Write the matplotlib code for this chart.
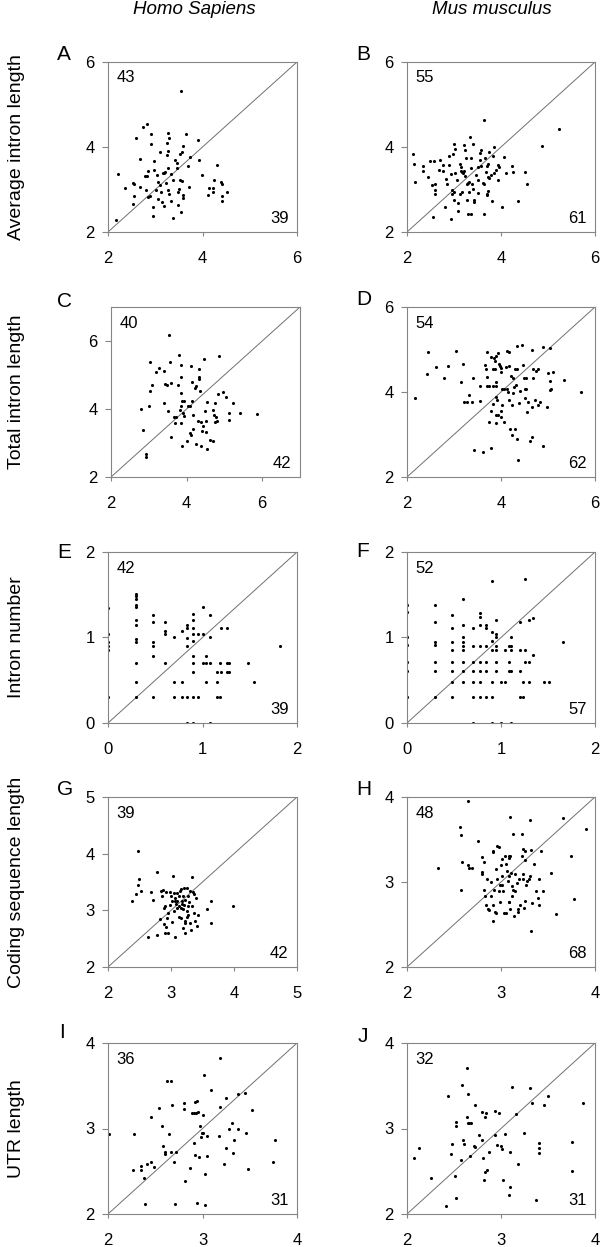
import numpy as np
import matplotlib.pyplot as plt

plt.rcParams['font.family'] = ['Liberation Sans', 'DejaVu Sans']

# ---- data (log10 values) ----
# A: Homo sapiens, average intron length
a_x = [2.17, 2.21, 2.36, 2.53, 2.54, 2.54, 2.52, 2.59, 2.68, 2.75, 2.83, 2.79, 2.83, 2.84,
       2.81, 2.85, 2.88, 2.91, 2.92, 2.97, 2.97, 2.95, 2.95, 3.02, 3.03, 3.11, 3.11, 3.13,
       3.15, 3.19, 3.17, 3.19, 3.21, 3.22, 3.25, 3.25, 3.28, 3.30, 3.28, 3.28, 3.27, 3.30,
       3.34, 3.34, 3.37, 3.42, 3.46, 3.45, 3.49, 3.51, 3.55, 3.53, 3.56, 3.58, 3.53, 3.56,
       3.55, 3.58, 3.58, 3.66, 3.70, 3.71, 3.90, 3.92, 3.98, 4.11, 4.14, 4.23, 4.22, 4.24,
       4.30, 4.40, 4.41, 4.42, 4.42, 4.51, 3.06, 3.74, 2.68, 3.49, 3.37, 3.06]
a_y = [2.29, 3.37, 3.04, 3.15, 3.12, 2.85, 2.65, 4.21, 3.72, 4.46, 4.53, 3.32, 3.32, 3.44,
       3.00, 2.82, 2.85, 4.08, 4.31, 3.66, 3.47, 2.60, 2.38, 2.99, 3.34, 3.88, 3.11, 2.93,
       2.71, 2.61, 3.40, 3.39, 3.42, 3.15, 4.09, 3.82, 4.34, 4.22, 3.91, 3.50, 2.98, 2.89,
       3.36, 2.73, 2.34, 3.70, 3.63, 3.51, 2.64, 3.02, 5.32, 3.84, 3.88, 4.02, 3.22, 3.20,
       2.48, 2.86, 2.81, 4.31, 3.55, 3.07, 4.16, 3.69, 3.33, 2.88, 3.04, 3.04, 2.95, 3.23,
       3.57, 3.18, 3.13, 2.84, 2.73, 2.93, 2.78, 3.76, 3.06, 2.94, 3.22, 3.18]

# B: Mus musculus, average intron length
b_x = [2.13, 2.15, 2.18, 2.34, 2.35, 2.45, 2.49, 2.58, 2.53, 2.59, 2.60, 2.60, 2.55, 2.71,
       2.77, 2.77, 2.81, 2.83, 2.89, 2.90, 2.93, 2.96, 2.99, 2.96, 2.98, 3.00, 3.02, 3.02,
       3.00, 3.06, 3.09, 3.12, 3.12, 3.09, 3.15, 3.18, 3.20, 3.21, 3.14, 3.21, 3.23, 3.25,
       3.24, 3.27, 3.29, 3.32, 3.29, 3.37, 3.27, 3.34, 3.37, 3.37, 3.38, 3.40, 3.42, 3.42,
       3.46, 3.50, 3.52, 3.55, 3.57, 3.55, 3.57, 3.61, 3.63, 3.63, 3.63, 3.67, 3.68, 3.70,
       3.71, 3.71, 3.72, 3.72, 3.75, 3.75, 3.72, 3.78, 3.80, 3.82, 3.85, 3.86, 3.90, 3.94,
       3.95, 4.03, 4.06, 4.10, 4.23, 4.25, 4.37, 4.50, 4.56, 4.88, 5.24, 2.68, 2.85, 2.93,
       3.50, 3.40, 3.93, 3.31, 3.18]
b_y = [3.84, 3.59, 3.18, 3.55, 3.44, 3.29, 3.67, 3.67, 3.10, 3.14, 2.98, 2.90, 2.35, 3.70,
       3.57, 3.44, 2.59, 3.25, 3.57, 3.78, 2.31, 2.98, 2.94, 2.90, 3.83, 4.08, 3.96, 3.39,
       2.76, 3.22, 2.68, 2.90, 3.61, 2.49, 3.44, 3.41, 3.39, 3.44, 3.53, 4.04, 3.92, 3.73,
       3.31, 3.12, 3.15, 3.18, 2.43, 2.43, 2.76, 4.24, 3.73, 3.51, 3.14, 4.08, 2.75, 2.71,
       3.35, 2.92, 3.53, 3.86, 3.92, 3.69, 3.55, 3.15, 3.12, 4.63, 2.43, 3.73, 3.41, 3.55,
       2.86, 2.90, 3.61, 3.29, 3.28, 3.88, 2.96, 3.33, 2.73, 3.80, 4.00, 3.39, 3.47, 3.57,
       3.53, 2.60, 3.76, 3.40, 3.55, 3.41, 2.73, 3.41, 3.12, 4.02, 4.43, 3.45, 3.14, 3.37,
       3.22, 3.02, 3.22, 2.94, 2.94]

# C: Homo sapiens, total intron length
c_x = [2.80, 2.84, 2.92, 2.92, 3.00, 3.02, 3.03, 3.09, 3.18, 3.28, 3.39, 3.40, 3.44, 3.48,
       3.50, 3.53, 3.55, 3.58, 3.60, 3.67, 3.72, 3.70, 3.76, 3.79, 3.82, 3.84, 3.84, 3.84,
       3.85, 3.86, 3.88, 3.94, 3.89, 3.91, 3.94, 4.00, 4.04, 4.08, 4.10, 4.12, 4.12, 4.13,
       4.15, 4.17, 4.17, 4.21, 4.24, 4.26, 4.29, 4.32, 4.32, 4.34, 4.35, 4.38, 4.38, 4.40,
       4.43, 4.46, 4.48, 4.50, 4.51, 4.54, 4.54, 4.62, 4.70, 4.71, 4.73, 4.76, 4.76, 4.79,
       4.80, 4.83, 4.87, 4.95, 5.03, 5.12, 5.13, 5.23, 5.40, 5.85]
c_y = [4.00, 3.37, 2.67, 2.59, 4.09, 4.53, 5.39, 4.70, 5.08, 5.21, 5.11, 4.17, 4.75, 4.72,
       3.93, 6.18, 5.38, 3.19, 4.77, 3.76, 3.76, 3.60, 4.70, 5.58, 3.96, 3.60, 4.93, 4.47,
       4.09, 5.28, 4.24, 4.24, 2.92, 3.88, 3.80, 3.07, 4.10, 4.10, 3.30, 3.23, 5.26, 4.24,
       4.80, 3.41, 3.81, 4.62, 2.97, 4.67, 3.66, 5.18, 4.93, 4.88, 4.52, 2.92, 3.63, 3.36,
       3.50, 5.46, 3.93, 3.66, 3.33, 4.20, 2.82, 3.10, 3.06, 3.98, 3.83, 4.19, 3.63, 3.76,
       3.65, 4.45, 5.56, 4.49, 4.35, 3.88, 3.68, 4.17, 3.87, 3.84]

# D: Mus musculus, total intron length
d_x = [2.17, 2.42, 2.45, 2.62, 2.78, 2.87, 3.04, 3.14, 3.19, 3.21, 3.27, 3.32, 3.38, 3.40,
       3.43, 3.55, 3.55, 3.61, 3.66, 3.68, 3.70, 3.70, 3.71, 3.74, 3.75, 3.78, 3.78, 3.78,
       3.82, 3.82, 3.84, 3.87, 3.85, 3.89, 3.87, 3.89, 3.89, 3.90, 3.91, 3.90, 3.93, 3.90,
       3.94, 3.95, 3.97, 4.00, 3.99, 3.99, 4.01, 4.03, 4.06, 4.03, 4.06, 4.10, 4.12, 4.16,
       4.13, 4.14, 4.16, 4.18, 4.20, 4.29, 4.22, 4.25, 4.23, 4.23, 4.25, 4.28, 4.29, 4.35,
       4.31, 4.33, 4.35, 4.37, 4.38, 4.41, 4.44, 4.46, 4.48, 4.54, 4.50, 4.54, 4.52, 4.56,
       4.58, 4.61, 4.65, 4.67, 4.67, 4.69, 4.69, 4.75, 4.73, 4.79, 4.79, 4.82, 4.90, 4.90,
       4.98, 5.01, 5.04, 5.05, 5.10, 5.04, 5.07, 5.35, 5.70]
d_y = [3.85, 4.42, 4.93, 4.58, 4.34, 4.62, 4.97, 4.24, 4.66, 3.77, 3.76, 3.94, 3.77, 4.34,
       2.64, 3.80, 4.13, 2.60, 4.64, 4.54, 4.93, 4.36, 4.13, 4.13, 3.29, 3.56, 2.69, 4.83,
       4.13, 3.72, 4.55, 4.55, 4.81, 4.85, 4.72, 4.23, 4.13, 3.88, 3.81, 3.47, 3.45, 3.27,
       4.91, 4.67, 4.62, 4.56, 4.46, 3.42, 3.56, 4.07, 4.07, 3.70, 3.29, 4.58, 4.97, 4.95,
       4.07, 4.01, 4.62, 3.81, 3.13, 3.13, 4.38, 4.34, 2.99, 3.70, 3.97, 4.11, 4.54, 4.55,
       4.16, 2.90, 5.09, 2.41, 3.73, 4.03, 5.11, 4.63, 4.34, 4.34, 4.07, 4.07, 3.85, 3.54,
       3.77, 2.84, 2.95, 3.64, 4.98, 4.34, 4.54, 4.50, 3.81, 4.54, 3.70, 3.76, 5.06, 2.72,
       3.64, 4.44, 4.25, 4.05, 4.46, 5.03, 4.07, 4.29, 3.99]

# E: Homo sapiens, intron number
e_x = [0.00] * 6 + [0.30] * 12 + [0.48] * 6 + [0.60] * 4 + [0.70] * 3 + [0.78] * 3 + \
      [0.84] * 6 + [0.90] * 10 + [0.95] * 2 + [1.00] * 3 + [1.04] * 3 + [1.08] * 4 + \
      [1.15] * 3 + [1.18] * 2 + [1.20] * 2 + [1.26] * 3 + [1.28] * 2 + [1.48, 1.54, 1.82]
e_y = [1.34, 1.04, 0.95, 0.90, 0.85, 0.30,
       1.51, 1.48, 1.45, 1.38, 1.36, 1.20, 1.15, 0.98, 0.95, 0.70, 0.48, 0.30,
       1.26, 1.18, 0.95, 0.90, 0.78, 0.30,
       1.18, 1.08, 1.04, 0.70,
       1.00, 0.48, 0.30,
       1.08, 0.48, 0.30,
       1.15, 1.11, 0.99, 0.90, 0.30, 0.00,
       1.28, 1.20, 1.11, 1.04, 0.96, 0.78, 0.70, 0.60, 0.30, 0.00,
       1.04, 0.30,
       1.36, 1.04, 0.70,
       0.78, 0.70, 0.48,
       1.26, 1.00, 0.70, 0.00,
       0.60, 0.48, 0.30,
       0.70, 0.30,
       1.11, 0.60,
       1.11, 0.70, 0.60,
       0.70, 0.60,
       0.70, 0.48, 0.90]

# F: Mus musculus, intron number
f_x = [0.00] * 7 + [0.30] * 7 + [0.48] * 8 + [0.60] * 9 + [0.70] * 7 + [0.78] * 8 + \
      [0.84] * 6 + [0.90] * 7 + [0.95] * 7 + [1.00] * 2 + [1.04] * 2 + [1.08] * 3 + \
      [1.11] * 5 + [1.20] * 4 + [1.23] * 2 + [1.26] * 3 + [1.30] * 3 + [1.34] * 2 + \
      [1.46, 1.51, 1.66]
f_y = [1.38, 1.30, 1.00, 0.91, 0.71, 0.61, 0.30,
       1.38, 1.18, 0.95, 0.91, 0.71, 0.61, 0.30,
       1.26, 1.11, 0.95, 0.85, 0.71, 0.61, 0.48, 0.30,
       1.45, 1.15, 1.01, 0.95, 0.90, 0.85, 0.71, 0.61, 0.48,
       1.11, 0.90, 0.71, 0.61, 0.48, 0.30, 0.00,
       1.29, 1.24, 1.15, 0.90, 0.71, 0.61, 0.48, 0.30,
       1.15, 1.11, 0.90, 0.71, 0.61, 0.30,
       1.66, 1.07, 0.96, 0.85, 0.48, 0.30, 0.00,
       1.21, 1.04, 1.00, 0.90, 0.85, 0.71, 0.61,
       0.48, 0.00,
       0.85, 0.48,
       0.90, 0.71, 0.61,
       1.00, 0.90, 0.85, 0.61, 0.00,
       1.18, 0.85, 0.61, 0.30,
       0.48, 0.30,
       1.69, 0.85, 0.71,
       1.21, 0.71, 0.48,
       1.23, 0.79,
       0.48, 0.48, 0.95]

# G: Homo sapiens, coding sequence length
g_x = [2.38, 2.45, 2.48, 2.47, 2.49, 2.52, 2.64, 2.69, 2.71, 2.78, 2.78, 2.83, 2.84, 2.87,
       2.89, 2.89, 2.91, 2.92, 2.92, 2.93, 2.95, 2.96, 2.99, 3.00, 3.02, 3.02, 3.03, 3.04,
       3.05, 3.06, 3.06, 3.08, 3.09, 3.12, 3.10, 3.12, 3.13, 3.15, 3.16, 3.17, 3.18, 3.19,
       3.19, 3.19, 3.20, 3.22, 3.22, 3.23, 3.23, 3.25, 3.25, 3.26, 3.27, 3.27, 3.29, 3.30,
       3.30, 3.32, 3.33, 3.35, 3.37, 3.36, 3.39, 3.41, 3.43, 3.57, 3.64, 3.64, 3.98, 3.10,
       3.16, 3.21, 3.06, 2.99, 3.27, 3.33, 2.91, 3.38, 3.16, 2.85]
g_y = [3.16, 3.29, 4.04, 3.44, 3.55, 3.35, 2.53, 3.32, 3.18, 2.57, 3.67, 2.84, 3.34, 3.36,
       3.05, 2.76, 2.60, 2.71, 3.32, 2.86, 2.95, 2.60, 3.32, 3.26, 3.16, 2.79, 3.61, 2.98,
       3.31, 3.22, 2.53, 3.12, 3.04, 3.07, 3.17, 2.89, 3.25, 3.35, 3.38, 3.12, 3.16, 3.02,
       2.69, 3.25, 3.39, 3.18, 2.78, 2.81, 2.60, 3.39, 2.98, 2.89, 2.91, 3.07, 3.14, 3.34,
       2.78, 2.65, 3.59, 3.32, 3.28, 2.95, 3.21, 2.72, 2.91, 3.02, 3.17, 2.78, 3.07, 3.31,
       3.04, 3.10, 3.16, 3.10, 3.25, 3.07, 3.07, 2.81, 2.86, 3.25]

# H: Mus musculus, coding sequence length
h_x = [2.33, 2.56, 2.57, 2.57, 2.59, 2.65, 2.66, 2.65, 2.69, 2.76, 2.80, 2.82, 2.80, 2.80,
       2.82, 2.83, 2.84, 2.85, 2.86, 2.87, 2.89, 2.89, 2.91, 2.92, 2.92, 2.91, 2.93, 2.94,
       2.95, 2.95, 2.96, 2.96, 2.98, 2.98, 2.99, 2.99, 3.01, 3.00, 3.01, 3.01, 3.02, 3.03,
       3.05, 3.04, 3.05, 3.06, 3.07, 3.08, 3.10, 3.08, 3.09, 3.09, 3.09, 3.10, 3.10, 3.11,
       3.12, 3.12, 3.13, 3.13, 3.15, 3.14, 3.15, 3.17, 3.18, 3.18, 3.19, 3.20, 3.22, 3.23,
       3.25, 3.22, 3.23, 3.23, 3.24, 3.25, 3.26, 3.27, 3.28, 3.30, 3.31, 3.31, 3.32, 3.32,
       3.33, 3.35, 3.37, 3.39, 3.40, 3.40, 3.43, 3.45, 3.53, 3.59, 3.66, 3.74, 3.78, 3.90]
h_y = [3.17, 3.65, 3.55, 2.91, 3.23, 3.20, 3.17, 3.95, 3.16, 3.48, 3.30, 3.24, 3.12, 3.10,
       2.91, 2.83, 2.73, 3.04, 2.68, 2.67, 3.00, 2.83, 3.35, 3.37, 2.73, 2.54, 2.91, 2.65,
       2.64, 3.15, 3.03, 3.42, 3.41, 2.90, 2.77, 2.97, 2.96, 3.20, 3.27, 3.07, 2.90, 2.63,
       2.64, 3.31, 3.21, 3.13, 3.01, 3.31, 3.31, 2.77, 2.77, 3.28, 3.07, 2.68, 3.77, 3.11,
       2.95, 2.84, 3.56, 2.91, 2.89, 2.60, 3.10, 2.99, 2.65, 2.68, 3.03, 2.73, 3.56, 3.39,
       3.37, 3.31, 3.09, 3.03, 2.69, 2.78, 3.26, 2.96, 3.01, 3.03, 3.73, 3.07, 3.38, 2.42,
       2.75, 3.21, 2.89, 2.81, 3.03, 2.73, 3.36, 2.89, 3.11, 2.62, 3.75, 3.31, 2.80, 3.62]

# I: Homo sapiens, UTR length
i_x = [2.01, 2.26, 2.27, 2.35, 2.35, 2.38, 2.39, 2.41, 2.45, 2.46, 2.49, 2.54, 2.57, 2.58,
       2.60, 2.60, 2.62, 2.67, 2.65, 2.68, 2.67, 2.70, 2.71, 2.72, 2.80, 2.80, 2.81, 2.87,
       2.89, 2.91, 2.93, 2.91, 2.92, 2.94, 2.92, 2.94, 2.95, 2.96, 2.97, 2.98, 2.99, 3.01,
       3.01, 3.02, 3.03, 3.03, 3.05, 3.05, 3.09, 3.17, 3.19, 3.19, 3.23, 3.25, 3.25, 3.28,
       3.31, 3.32, 3.33, 3.38, 3.38, 3.45, 3.46, 3.48, 3.52, 3.75, 3.77]
i_y = [2.93, 2.51, 2.94, 2.56, 2.52, 2.42, 2.12, 2.59, 2.61, 3.13, 2.55, 3.24, 3.03, 2.80,
       2.73, 2.70, 3.56, 3.56, 2.94, 3.28, 2.73, 2.61, 2.12, 2.73, 3.30, 3.23, 2.39, 2.54,
       3.18, 3.18, 3.18, 2.83, 3.31, 3.32, 2.69, 2.13, 3.19, 2.67, 3.03, 2.90, 2.95, 2.95,
       3.16, 3.63, 2.10, 2.47, 2.91, 2.68, 3.45, 2.91, 3.25, 3.82, 2.58, 2.77, 3.36, 3.00,
       3.07, 2.71, 2.86, 2.99, 3.40, 3.41, 2.95, 2.53, 3.22, 2.61, 2.86]

# J: Mus musculus, UTR length
j_x = [2.07, 2.13, 2.25, 2.41, 2.44, 2.47, 2.48, 2.51, 2.52, 2.52, 2.52, 2.57, 2.58, 2.60,
       2.61, 2.64, 2.64, 2.65, 2.65, 2.66, 2.68, 2.67, 2.71, 2.72, 2.72, 2.77, 2.80, 2.80,
       2.81, 2.82, 2.83, 2.84, 2.83, 2.85, 2.87, 2.94, 2.94, 2.96, 2.98, 3.00, 3.01, 3.02,
       3.04, 3.09, 3.10, 3.10, 3.12, 3.16, 3.18, 3.24, 3.31, 3.33, 3.37, 3.40, 3.40, 3.40,
       3.46, 3.50, 3.75, 3.76, 3.87]
j_y = [2.66, 2.77, 2.42, 2.09, 3.38, 2.70, 2.82, 2.44, 2.19, 3.08, 3.03, 2.63, 3.51, 2.87,
       2.82, 3.13, 3.71, 3.40, 3.06, 3.06, 3.06, 2.68, 2.79, 2.78, 3.28, 2.92, 3.19, 2.87,
       2.65, 2.40, 3.14, 3.18, 2.49, 2.51, 2.73, 2.92, 3.20, 2.81, 3.18, 2.79, 2.76, 2.40,
       2.93, 2.22, 2.32, 2.72, 3.49, 3.17, 2.59, 2.95, 3.47, 3.30, 2.16, 2.83, 2.77, 2.71,
       3.27, 3.38, 2.84, 2.50, 3.30]

# counts above / below the diagonal
counts_up = [43, 55, 40, 54, 42, 52, 39, 48, 36, 32]
counts_down = [39, 61, 42, 62, 39, 57, 42, 68, 31, 31]
letters = list("ABCDEFGHIJ")
row_labels = ["Average intron length", "Total intron length", "Intron number",
              "Coding sequence length", "UTR length"]
col_titles = ["Homo Sapiens", "Mus musculus"]

panels = [
    (a_x, a_y, (2, 6), [2, 4, 6]),
    (b_x, b_y, (2, 6), [2, 4, 6]),
    (c_x, c_y, (2, 7), [2, 4, 6]),
    (d_x, d_y, (2, 6), [2, 4, 6]),
    (e_x, e_y, (0, 2), [0, 1, 2]),
    (f_x, f_y, (0, 2), [0, 1, 2]),
    (g_x, g_y, (2, 5), [2, 3, 4, 5]),
    (h_x, h_y, (2, 4), [2, 3, 4]),
    (i_x, i_y, (2, 4), [2, 3, 4]),
    (j_x, j_y, (2, 4), [2, 3, 4]),
]

W, H = 600, 1247
fig = plt.figure(figsize=(W / 100, H / 100), dpi=100)

# axes boxes in pixels: left, top, width, height
boxes = [(108, 62, 189, 170), (407, 62, 188, 170),
         (111, 307, 189, 170), (407, 307, 188, 170),
         (108, 552, 189, 171), (407, 552, 188, 171),
         (108, 797, 189, 170), (407, 797, 188, 170),
         (108, 1043, 189, 171), (407, 1043, 188, 171)]
letter_pos = [(57, 60), (356, 60), (57, 307), (356, 305), (57, 558),
              (356, 557), (57, 795), (356, 795), (59, 1038), (358, 1042)]
grey = '#858585'

for k, (x, y, lim, ticks) in enumerate(panels):
    left, top, w, h = boxes[k]
    ax = fig.add_axes([left / W, 1 - (top + h) / H, w / W, h / H])
    ax.plot(lim, lim, color='#707070', lw=0.7, zorder=1)
    ax.scatter(x, y, s=5, color='black', linewidths=0, zorder=2)
    ax.set_xlim(lim)
    ax.set_ylim(lim)
    ax.set_xticks(ticks)
    ax.set_yticks(ticks)
    for sp in ax.spines.values():
        sp.set_color(grey)
        sp.set_linewidth(0.8)
    ax.tick_params(axis='both', direction='out', width=0.8, color=grey, labelsize=12)
    ax.tick_params(axis='x', length=3, pad=11)
    ax.tick_params(axis='y', length=4.5, pad=5)
    ax.text(0.045, 0.95, str(counts_up[k]), transform=ax.transAxes, fontsize=12,
            ha='left', va='top')
    ax.text(0.955, 0.052, str(counts_down[k]), transform=ax.transAxes, fontsize=12,
            ha='right', va='baseline')
    lx, ly = letter_pos[k]
    fig.text(lx / W, 1 - ly / H, letters[k], fontsize=15, ha='left', va='baseline')

for r, lab in enumerate(row_labels):
    left, top, w, h = boxes[2 * r]
    fig.text(17 / W, 1 - (top + h / 2) / H, lab, rotation=90,
             fontsize=14, ha='center', va='center')

fig.text(194 / W, 1 - 14 / H, col_titles[0], fontsize=13.5, style='italic',
         ha='center', va='baseline')
fig.text(492 / W, 1 - 14 / H, col_titles[1], fontsize=13.5, style='italic',
         ha='center', va='baseline')

fig.savefig('out.png', dpi=100)
